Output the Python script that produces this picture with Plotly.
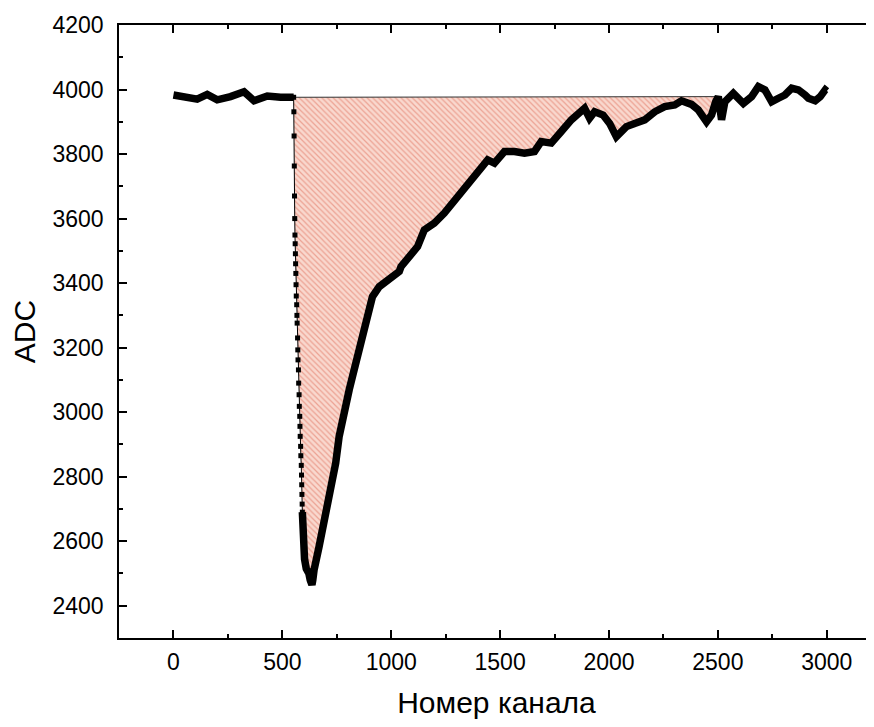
import plotly.graph_objects as go

# Flat pre-pulse baseline (channel, ADC)
base_ch = [0, 63, 109, 155, 201, 262, 324, 370, 431, 492, 546, 552]
base_adc = [3983, 3978, 3970, 3985, 3968, 3978, 3993, 3965, 3980, 3976, 3980, 3976]

# Steep falling edge (individual samples visible as dots)
drop_ch = [552, 553, 554, 555, 556, 557, 558, 559, 560, 561, 562, 563, 564, 566, 567, 568,
           570, 571, 572, 574, 575, 577, 578, 580, 581, 582, 584, 585, 587, 588, 589, 590,
           591, 592]
drop_adc = [3976, 3931, 3856, 3763, 3670, 3600, 3549, 3522, 3491, 3460, 3430, 3395, 3360,
            3333, 3300, 3276, 3230, 3193, 3162, 3131, 3090, 3054, 3018, 2987, 2956, 2925,
            2894, 2865, 2835, 2805, 2775, 2745, 2715, 2690]

# Minimum and slow recovery
rise_ch = [592, 594, 596, 602, 610, 618, 622, 628, 632, 636, 640, 646, 669, 692, 707, 730,
           745, 761, 784, 807, 822, 845, 868, 891, 914, 945, 991, 1037, 1045, 1091, 1121,
           1152, 1198, 1244, 1275, 1321, 1367, 1413, 1443, 1474, 1520, 1566, 1612, 1658,
           1689, 1735, 1766, 1781, 1827, 1873, 1888, 1911, 1934, 1973, 2003, 2034, 2050,
           2080, 2118, 2164, 2210, 2256, 2302, 2333, 2379, 2410, 2448, 2471, 2490, 2502,
           2517, 2532, 2571, 2594, 2617, 2655, 2686, 2716, 2747, 2778, 2808, 2839, 2870,
           2901, 2916, 2947, 2970, 2993, 3000]
rise_adc = [2690, 2640, 2584, 2545, 2515, 2505, 2500, 2480, 2470, 2465, 2480, 2512, 2584,
            2656, 2718, 2801, 2842, 2925, 3007, 3069, 3110, 3172, 3245, 3307, 3358, 3389,
            3410, 3436, 3451, 3493, 3513, 3565, 3586, 3617, 3642, 3679, 3720, 3751, 3782,
            3772, 3808, 3808, 3803, 3808, 3839, 3834, 3865, 3870, 3906, 3931, 3942, 3911,
            3931, 3921, 3895, 3854, 3865, 3885, 3895, 3906, 3931, 3947, 3952, 3965, 3954,
            3937, 3900, 3921, 3962, 3978, 3906, 3962, 3988, 3968, 3957, 3978, 4009, 3999,
            3962, 3973, 3983, 4004, 3999, 3983, 3973, 3965, 3978, 3999, 3995]

x_ticks = [0, 500, 1000, 1500, 2000, 2500, 3000]
y_ticks = [2400, 2600, 2800, 3000, 3200, 3400, 3600, 3800, 4000, 4200]

# Integration region: from the start of the drop to where the signal returns to baseline
end_ch = 2502
area_x = drop_ch + [c for c in rise_ch if c <= end_ch]
area_y = drop_adc + [a for c, a in zip(rise_ch, rise_adc) if c <= end_ch]

fig = go.Figure()

fig.add_trace(go.Scatter(
    x=area_x, y=area_y, mode="none", fill="toself",
    fillcolor="#f9d8ce",
    fillpattern=dict(shape="\\", fgcolor="#eca293", bgcolor="#f9d8ce",
                     size=4, solidity=0.3, fillmode="replace"),
    hoverinfo="skip", showlegend=False))

# thin baseline line closing the area
fig.add_trace(go.Scatter(
    x=[drop_ch[0], end_ch], y=[drop_adc[0], area_y[-1]], mode="lines",
    line=dict(color="#333333", width=1), showlegend=False))

# thick data curve
fig.add_trace(go.Scatter(
    x=base_ch, y=base_adc, mode="lines",
    line=dict(color="black", width=7.5), showlegend=False))
fig.add_trace(go.Scatter(
    x=rise_ch, y=rise_adc, mode="lines",
    line=dict(color="black", width=7.5), showlegend=False))
fig.add_trace(go.Scatter(
    x=drop_ch, y=drop_adc, mode="lines+markers",
    line=dict(color="black", width=1),
    marker=dict(symbol="square", size=5, color="black"), showlegend=False))

FONT = "Liberation Sans, Arial, sans-serif"
tick_common = dict(
    ticks="inside", ticklen=8, tickwidth=1.5, tickcolor="black",
    showgrid=False, zeroline=False,
    tickfont=dict(family=FONT, size=23, color="black"),
)
y_minor = dict(ticks="inside", ticklen=4, tickwidth=1.5, dtick=100, tick0=0, tickcolor="black")

# The page body adds an 8px offset, so the figure is sized to the remaining window.
fig.update_layout(
    width=866, height=711,
    margin=dict(l=111, r=0, t=17, b=81),
    plot_bgcolor="white", paper_bgcolor="white",
    font=dict(family=FONT, color="black"),
    xaxis=dict(range=[-250, 3217], tickvals=x_ticks, ticktext=[str(v) for v in x_ticks],
               showline=True, linecolor="black", linewidth=1.5, mirror="ticks",
               minor=dict(ticks="inside", ticklen=4, tickwidth=1.5, dtick=250, tick0=0,
                          tickcolor="black"),
               title=dict(text="Номер канала", font=dict(size=30, family=FONT), standoff=25),
               automargin=False,
               ticklabelstandoff=3, **tick_common),
    yaxis=dict(range=[2300, 4200], tickvals=y_ticks, ticktext=[str(v) for v in y_ticks],
               showline=True, linecolor="black", linewidth=1.5, mirror=False,
               minor=y_minor, automargin=False,
               title=dict(text="ADC", font=dict(size=30, family=FONT), standoff=16),
               ticklabelstandoff=9, **tick_common),
    # right-hand ticks only (the right frame line lies just outside the picture)
    yaxis2=dict(range=[2300, 4200], tickvals=y_ticks, overlaying="y", side="right",
                showline=False, showticklabels=False, minor=y_minor, **tick_common),
)

fig.write_html("out.html")
